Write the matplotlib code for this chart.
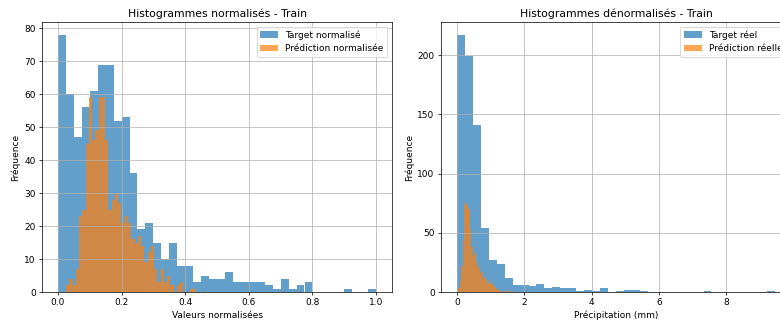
import numpy as np
import matplotlib.pyplot as plt

# Normalised histograms (40 bins each)
target_norm_counts = [78, 60, 47, 56, 61, 69, 69, 52, 53, 36,
                      19, 21, 15, 10, 15, 8, 8, 3, 5, 4,
                      4, 6, 3, 3, 3, 3, 2, 1, 4, 1,
                      2, 3, 0, 0, 0, 0, 1, 0, 0, 1]
target_norm_range = (0.0, 1.0)

pred_norm_counts = [2, 4, 2, 7, 23, 25, 45, 59, 46, 49,
                    59, 59, 46, 25, 28, 30, 27, 21, 23, 21,
                    16, 15, 17, 14, 9, 12, 14, 7, 3, 7,
                    3, 5, 2, 0, 2, 3, 0, 0, 1, 1]
pred_norm_range = (0.026, 0.435)

# Denormalised histograms (40 bins each)
target_real_counts = [217, 199, 141, 54, 27, 24, 12, 6, 6, 5,
                      7, 3, 4, 3, 3, 1, 2, 1, 3, 0,
                      1, 2, 2, 1, 0, 0, 0, 0, 0, 0,
                      0, 1, 0, 0, 0, 0, 0, 0, 0, 1]
target_real_range = (0.0, 9.45)

pred_real_counts = [3, 9, 22, 44, 75, 73, 75, 70, 53, 38,
                    30, 33, 26, 22, 19, 15, 17, 11, 13, 8,
                    10, 7, 8, 7, 6, 4, 3, 2, 2, 1,
                    0, 1, 1, 0, 1, 0, 1, 0, 0, 1]
pred_real_range = (0.04, 1.76)


def draw_hist(ax, counts, value_range, label):
    edges = np.linspace(value_range[0], value_range[1], len(counts) + 1)
    ax.hist(edges[:-1], bins=edges, weights=counts, alpha=0.7, label=label)


fig = plt.figure(figsize=(780 / 65, 329 / 65), dpi=65)
ax1 = fig.add_axes([42 / 780, 37 / 329, 350 / 780, 270 / 329])
ax2 = fig.add_axes([441 / 780, 37 / 329, 350 / 780, 270 / 329])

# Left: normalised values
draw_hist(ax1, target_norm_counts, target_norm_range, 'Target normalisé')
draw_hist(ax1, pred_norm_counts, pred_norm_range, 'Prédiction normalisée')
ax1.set_title('Histogrammes normalisés - Train')
ax1.set_xlabel('Valeurs normalisées')
ax1.set_ylabel('Fréquence')
ax1.legend()
ax1.grid(True)

# Right: real values (the panel runs past the right edge, as in the source image)
draw_hist(ax2, target_real_counts, target_real_range, 'Target réel')
draw_hist(ax2, pred_real_counts, pred_real_range, 'Prédiction réelle')
ax2.set_title('Histogrammes dénormalisés - Train')
ax2.set_xlabel('Précipitation (mm)')
ax2.set_ylabel('Fréquence')
ax2.legend()
ax2.grid(True)

fig.savefig('out.png', dpi=65)
